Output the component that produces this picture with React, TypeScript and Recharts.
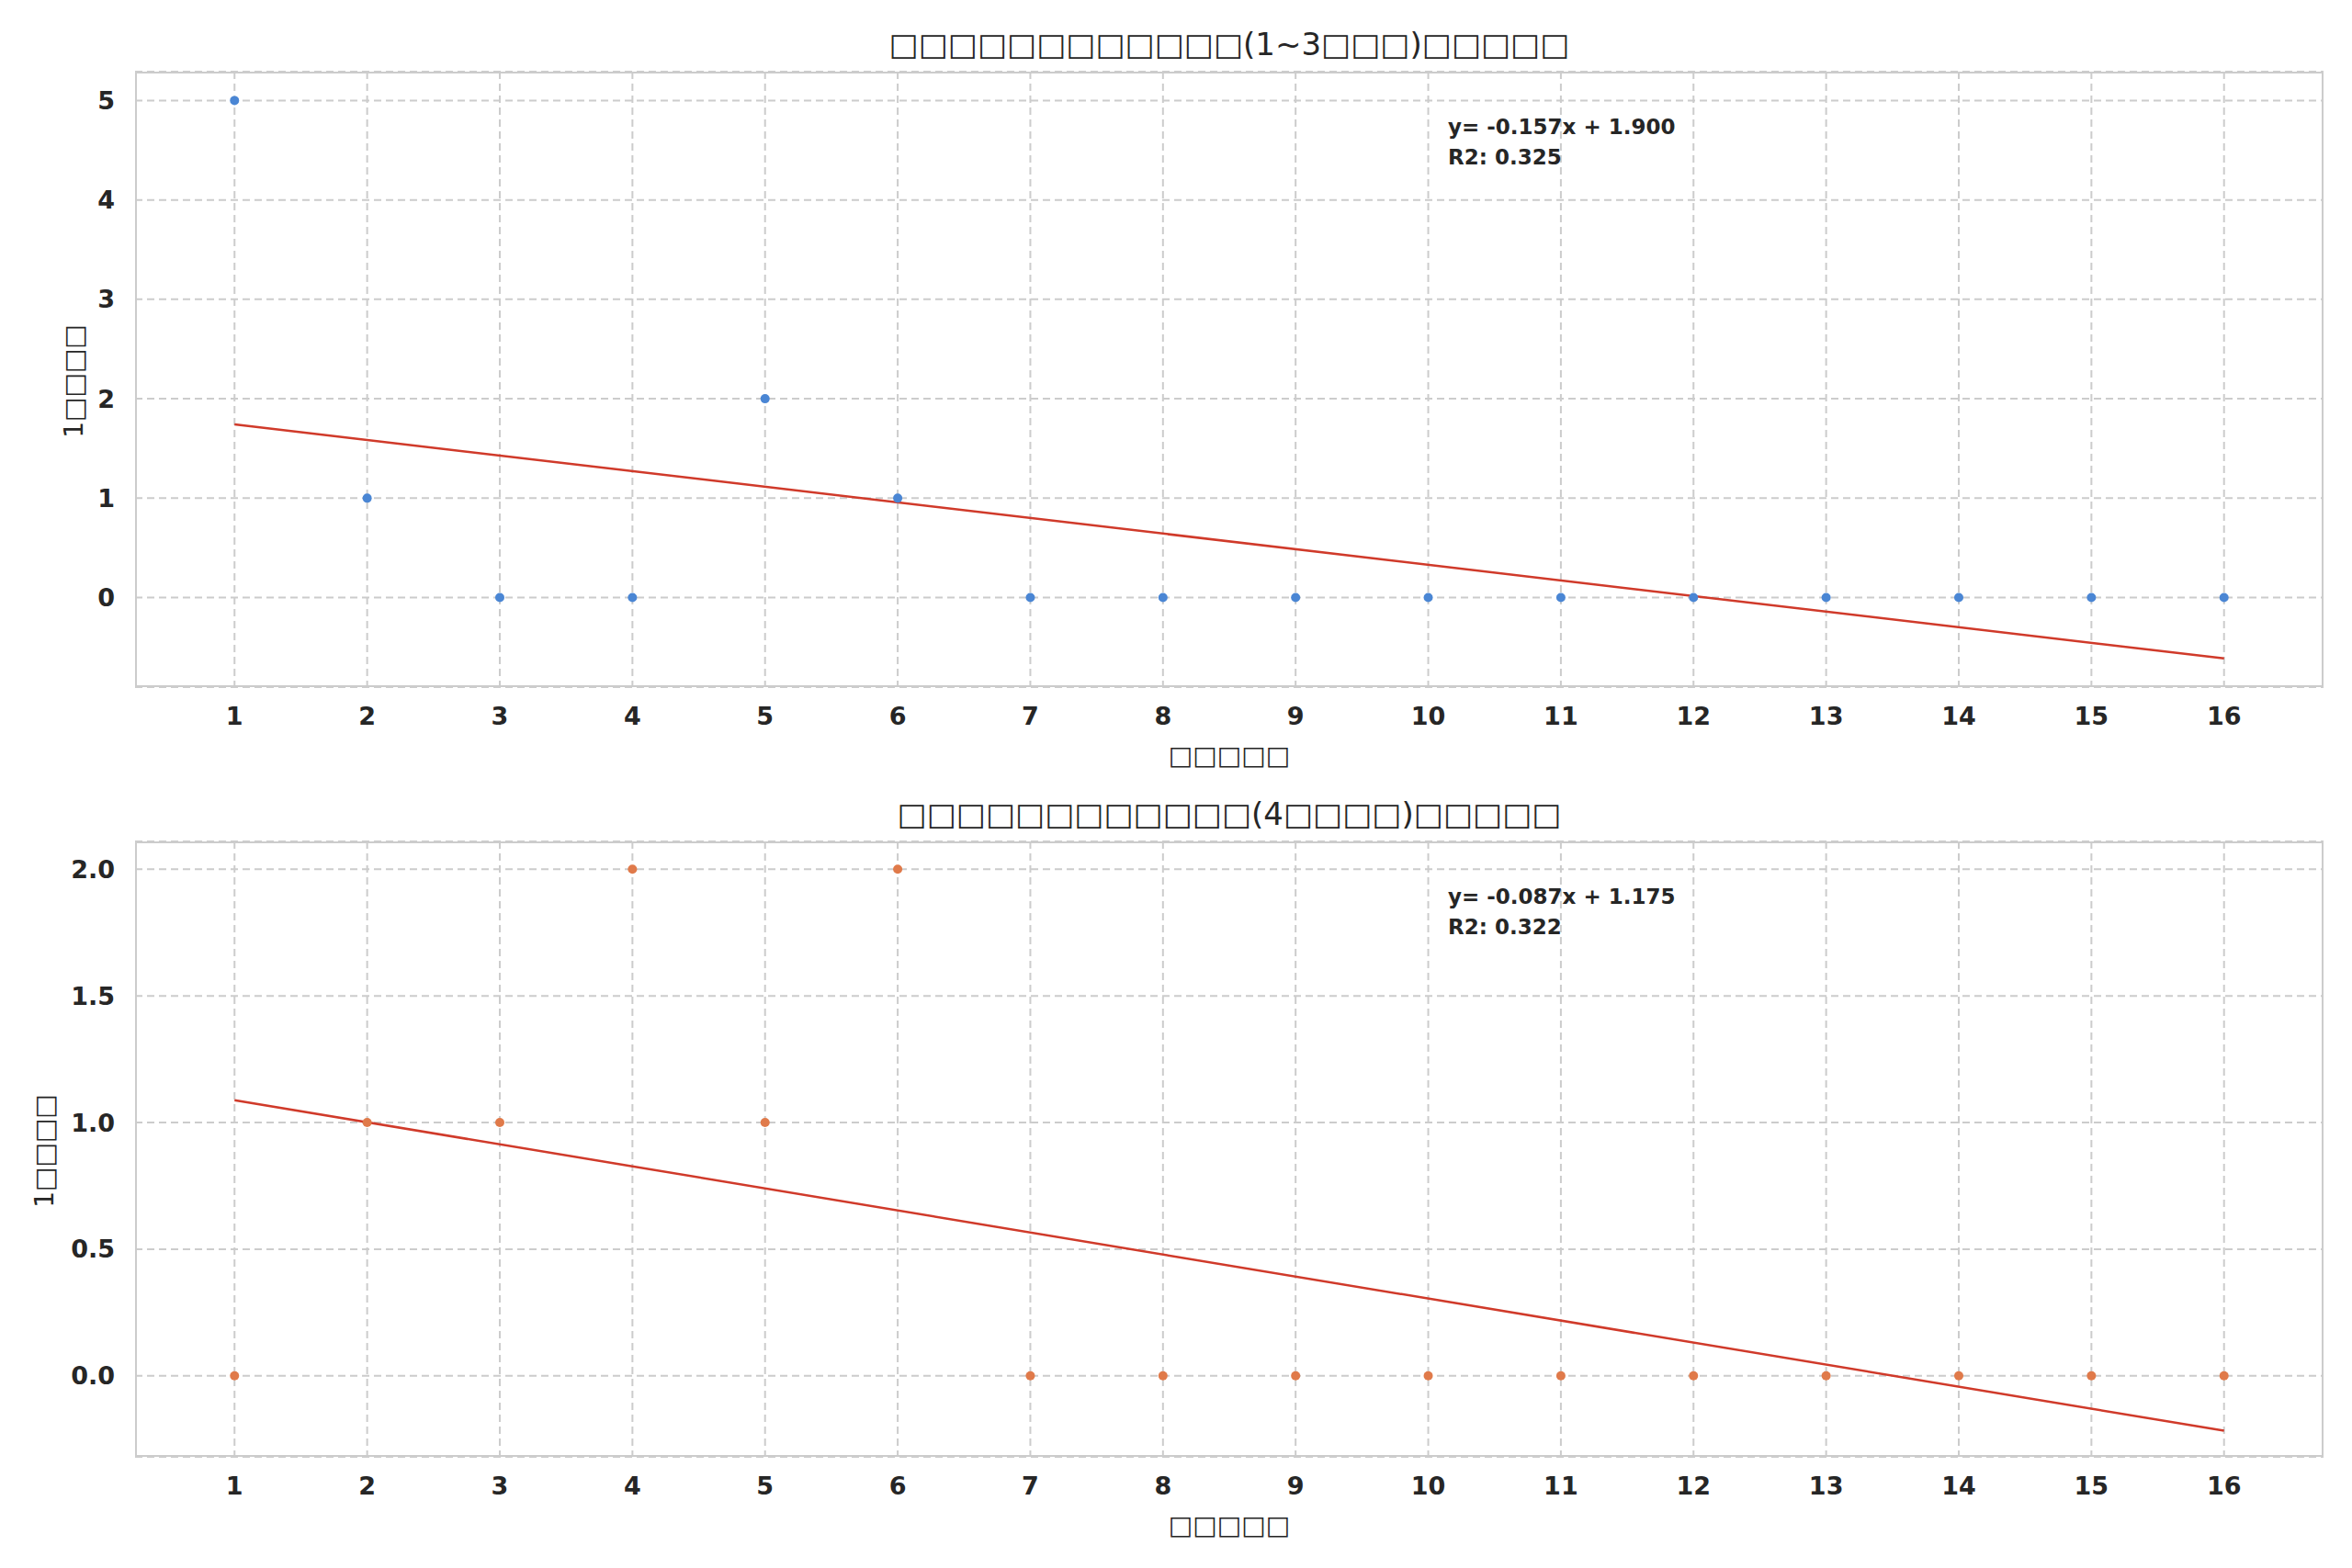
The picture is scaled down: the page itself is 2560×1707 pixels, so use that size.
import React from "react";
import {
  ComposedChart,
  CartesianGrid,
  Scatter,
  Line,
  XAxis,
  YAxis,
} from "recharts";

const days = [1, 2, 3, 4, 5, 6, 7, 8, 9, 10, 11, 12, 13, 14, 15, 16];
const countsShort = [5, 1, 0, 0, 2, 1, 0, 0, 0, 0, 0, 0, 0, 0, 0, 0];
const countsLong = [0, 1, 1, 2, 1, 2, 0, 0, 0, 0, 0, 0, 0, 0, 0, 0];
const fitShort = [{ x: 1, y: 1.743 }, { x: 16, y: -0.612 }];
const fitLong = [{ x: 1, y: 1.088 }, { x: 16, y: -0.217 }];
const ticksShort = [0, 1, 2, 3, 4, 5];
const ticksLong = [0, 0.5, 1, 1.5, 2];

const font = "'DejaVu Sans', sans-serif";
const tofu = (n: number) => "□".repeat(n);

interface PanelProps {
  top: number;
  title: string;
  values: number[];
  fit: { x: number; y: number }[];
  color: string;
  yDomain: [number, number];
  yTicks: number[];
  fmt: (v: number) => string;
  eq: string;
  r2: string;
  yLabelX: number;
}

function Panel(p: PanelProps) {
  const pts = days.map((d, i) => ({ x: d, y: p.values[i] }));
  const tick = { fill: "#262626", fontSize: 27, fontWeight: 700, fontFamily: font };
  return (
    <div style={{ position: "absolute", left: 0, top: p.top, width: 2560, height: 850 }}>
      <div style={{ position: "absolute", left: 0, width: 2676, top: 28, textAlign: "center", fontSize: 34, fontFamily: font, color: "#262626" }}>
        {p.title}
      </div>
      <ComposedChart width={2560} height={850} margin={{ top: 78, right: 31, bottom: 42, left: 0 }}>
        <CartesianGrid stroke="#cccccc" strokeDasharray="8 5" strokeWidth={2} verticalValues={days} />
        <XAxis type="number" dataKey="x" domain={[0.25, 16.75]} ticks={days} tickLine={false} axisLine={false} tickSize={0} tickMargin={22} height={60} tick={tick} allowDataOverflow />
        <YAxis type="number" dataKey="y" domain={p.yDomain} ticks={p.yTicks} tickFormatter={p.fmt} tickLine={false} axisLine={false} tickSize={0} tickMargin={22} width={147} tick={tick} allowDataOverflow />
        <Line data={p.fit} dataKey="y" type="linear" stroke="#d03a2a" strokeWidth={2.5} dot={false} isAnimationActive={false} />
        <Scatter data={pts} dataKey="y" fill={p.color} shape={(s: any) => <circle cx={s.cx} cy={s.cy} r={5} fill={p.color} />} isAnimationActive={false} />
      </ComposedChart>
      <div style={{ position: "absolute", left: 147, top: 78, width: 2382, height: 670, border: "2px solid #cccccc", boxSizing: "border-box", pointerEvents: "none" }} />
      <div style={{ position: "absolute", left: 1576, top: 122, fontSize: 23, fontWeight: 700, fontFamily: font, color: "#262626", lineHeight: "33px" }}>
        <div>{p.eq}</div>
        <div>{p.r2}</div>
      </div>
      <div style={{ position: "absolute", left: 0, width: 2676, top: 806, textAlign: "center", fontSize: 28, fontFamily: font, color: "#262626" }}>
        {tofu(5)}
      </div>
      <div style={{ position: "absolute", left: p.yLabelX, top: 415, transform: "translate(-50%,-50%) rotate(-90deg)", fontSize: 28, fontFamily: font, color: "#262626", whiteSpace: "nowrap" }}>
        {"1" + tofu(4)}
      </div>
    </div>
  );
}

export default function App() {
  return (
    <div style={{ position: "absolute", left: 0, top: 0, width: 2560, height: 1707, background: "#fff" }}>
      <Panel top={0} title={tofu(12) + "(1~3" + tofu(3) + ")" + tofu(5)} values={countsShort} fit={fitShort} color="#4a86d4" yDomain={[-0.9, 5.29]} yTicks={ticksShort} fmt={(v) => String(v)} eq="y= -0.157x + 1.900" r2="R2: 0.325" yLabelX={80} />
      <Panel top={838} title={tofu(12) + "(4" + tofu(4) + ")" + tofu(5)} values={countsLong} fit={fitLong} color="#e07a4a" yDomain={[-0.32, 2.11]} yTicks={ticksLong} fmt={(v) => v.toFixed(1)} eq="y= -0.087x + 1.175" r2="R2: 0.322" yLabelX={48} />
    </div>
  );
}
